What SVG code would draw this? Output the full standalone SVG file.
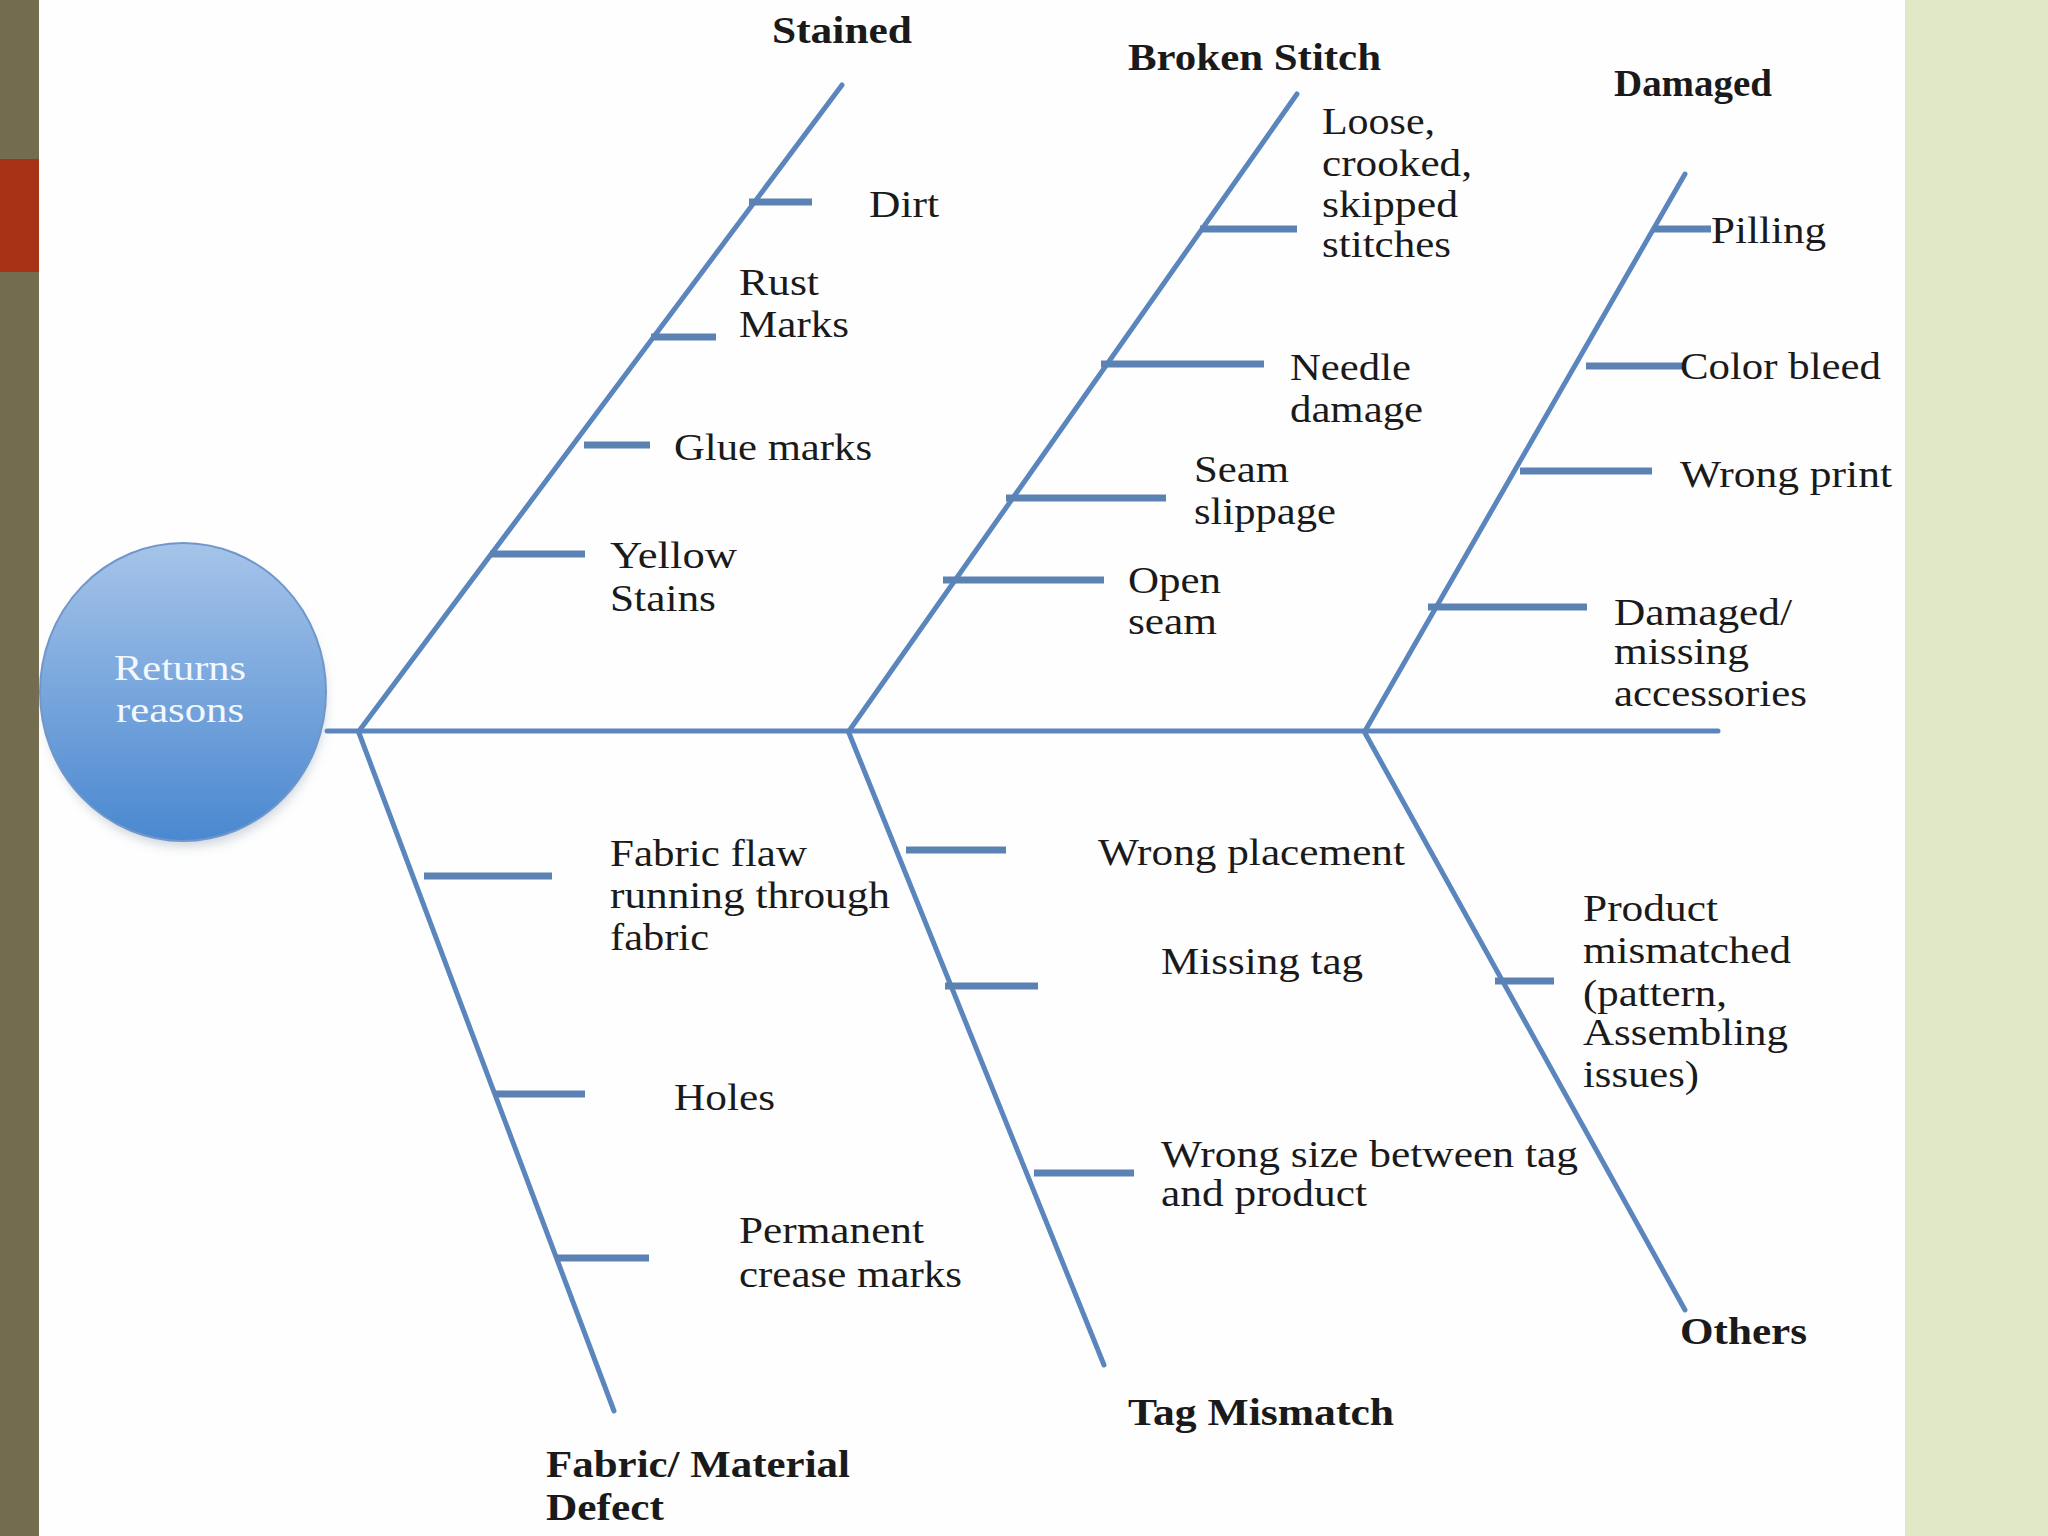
<svg xmlns="http://www.w3.org/2000/svg" width="2048" height="1536" viewBox="0 0 2048 1536">
  <defs>
    <linearGradient id="circFill" x1="0" y1="0" x2="0" y2="1">
      <stop offset="0" stop-color="#A6C4E9"/>
      <stop offset="1" stop-color="#4A88D0"/>
    </linearGradient>
    <filter id="shadow" x="-20%" y="-20%" width="140%" height="140%">
      <feGaussianBlur stdDeviation="6"/>
    </filter>
    <style>
      .bone { stroke: #5A86BD; stroke-width: 5; fill: none; stroke-linecap: round; }
      .rib { stroke: #5B82B3; stroke-width: 7; fill: none; }
      .t { font-family: "Liberation Serif", "Times New Roman", serif; font-size: 38px; fill: #1A1A1A; }
      .b { font-weight: bold; }
      .w { fill: #F4F8FD; font-size: 36px; text-anchor: middle; }
    </style>
  </defs>

  <rect x="0" y="0" width="2048" height="1536" fill="#FEFEFE"/>
  <rect x="0" y="0" width="39" height="1536" fill="#746C4F"/>
  <rect x="0" y="159" width="39" height="113" fill="#A83216"/>
  <rect x="1905" y="0" width="143" height="1536" fill="#E1E8C7"/>

  <g id="connectors">
    <line class="bone" x1="327" y1="731" x2="1718" y2="731"/>
    <line class="bone" x1="359" y1="731" x2="842" y2="85"/>
    <line class="bone" x1="849" y1="731" x2="1297" y2="94"/>
    <line class="bone" x1="1365" y1="731" x2="1685" y2="174"/>
    <line class="bone" x1="359" y1="733" x2="614" y2="1411"/>
    <line class="bone" x1="849" y1="733" x2="1104" y2="1365"/>
    <line class="bone" x1="1365" y1="733" x2="1685" y2="1310"/>
    <line class="rib" x1="749" y1="202" x2="812" y2="202"/>
    <line class="rib" x1="651" y1="337" x2="716" y2="337"/>
    <line class="rib" x1="584" y1="445" x2="650" y2="445"/>
    <line class="rib" x1="490" y1="554" x2="585" y2="554"/>
    <line class="rib" x1="1200" y1="229" x2="1297" y2="229"/>
    <line class="rib" x1="1101" y1="364" x2="1264" y2="364"/>
    <line class="rib" x1="1006" y1="498" x2="1166" y2="498"/>
    <line class="rib" x1="943" y1="580" x2="1104" y2="580"/>
    <line class="rib" x1="1653" y1="229" x2="1711" y2="229"/>
    <line class="rib" x1="1586" y1="366" x2="1685" y2="366"/>
    <line class="rib" x1="1520" y1="471" x2="1652" y2="471"/>
    <line class="rib" x1="1428" y1="607" x2="1587" y2="607"/>
    <line class="rib" x1="424" y1="876" x2="552" y2="876"/>
    <line class="rib" x1="494" y1="1094" x2="585" y2="1094"/>
    <line class="rib" x1="555" y1="1258" x2="649" y2="1258"/>
    <line class="rib" x1="906" y1="850" x2="1006" y2="850"/>
    <line class="rib" x1="945" y1="986" x2="1038" y2="986"/>
    <line class="rib" x1="1034" y1="1173" x2="1134" y2="1173"/>
    <line class="rib" x1="1495" y1="981" x2="1554" y2="981"/>
  </g>

  <g id="head">
    <ellipse cx="185" cy="700" rx="140" ry="146" fill="#8A9BB0" opacity="0.45" filter="url(#shadow)"/>
    <ellipse cx="183" cy="692" rx="143" ry="149" fill="url(#circFill)" stroke="#6F97C9" stroke-width="2"/>
    <text class="t w" x="180" y="680" textLength="132" lengthAdjust="spacingAndGlyphs">Returns</text>
    <text class="t w" x="180" y="722" textLength="128" lengthAdjust="spacingAndGlyphs">reasons</text>
  </g>

  <g id="stained">
    <text class="t b" x="772" y="43" textLength="140" lengthAdjust="spacingAndGlyphs">Stained</text>
    <text class="t" x="869" y="217" textLength="70" lengthAdjust="spacingAndGlyphs">Dirt</text>
    <text class="t" x="739" y="295" textLength="80" lengthAdjust="spacingAndGlyphs">Rust</text>
    <text class="t" x="739" y="337" textLength="110" lengthAdjust="spacingAndGlyphs">Marks</text>
    <text class="t" x="674" y="460" textLength="198" lengthAdjust="spacingAndGlyphs">Glue marks</text>
    <text class="t" x="610" y="568" textLength="127" lengthAdjust="spacingAndGlyphs">Yellow</text>
    <text class="t" x="610" y="611" textLength="106" lengthAdjust="spacingAndGlyphs">Stains</text>
  </g>

  <g id="broken-stitch">
    <text class="t b" x="1128" y="70" textLength="253" lengthAdjust="spacingAndGlyphs">Broken Stitch</text>
    <text class="t" x="1322" y="134" textLength="113" lengthAdjust="spacingAndGlyphs">Loose,</text>
    <text class="t" x="1322" y="176" textLength="150" lengthAdjust="spacingAndGlyphs">crooked,</text>
    <text class="t" x="1322" y="217" textLength="136" lengthAdjust="spacingAndGlyphs">skipped</text>
    <text class="t" x="1322" y="257" textLength="129" lengthAdjust="spacingAndGlyphs">stitches</text>
    <text class="t" x="1290" y="380" textLength="121" lengthAdjust="spacingAndGlyphs">Needle</text>
    <text class="t" x="1290" y="422" textLength="133" lengthAdjust="spacingAndGlyphs">damage</text>
    <text class="t" x="1194" y="482" textLength="95" lengthAdjust="spacingAndGlyphs">Seam</text>
    <text class="t" x="1194" y="524" textLength="142" lengthAdjust="spacingAndGlyphs">slippage</text>
    <text class="t" x="1128" y="593" textLength="93" lengthAdjust="spacingAndGlyphs">Open</text>
    <text class="t" x="1128" y="634" textLength="89" lengthAdjust="spacingAndGlyphs">seam</text>
  </g>

  <g id="damaged">
    <text class="t b" x="1614" y="96" font-size="32" textLength="158" lengthAdjust="spacingAndGlyphs">Damaged</text>
    <text class="t" x="1711" y="243" textLength="115" lengthAdjust="spacingAndGlyphs">Pilling</text>
    <text class="t" x="1680" y="379" textLength="201" lengthAdjust="spacingAndGlyphs">Color bleed</text>
    <text class="t" x="1680" y="487" textLength="212" lengthAdjust="spacingAndGlyphs">Wrong print</text>
    <text class="t" x="1614" y="625" textLength="178" lengthAdjust="spacingAndGlyphs">Damaged/</text>
    <text class="t" x="1614" y="664" textLength="135" lengthAdjust="spacingAndGlyphs">missing</text>
    <text class="t" x="1614" y="706" textLength="193" lengthAdjust="spacingAndGlyphs">accessories</text>
  </g>

  <g id="fabric-material-defect">
    <text class="t b" x="546" y="1477" textLength="304" lengthAdjust="spacingAndGlyphs">Fabric/ Material</text>
    <text class="t b" x="546" y="1520" textLength="118" lengthAdjust="spacingAndGlyphs">Defect</text>
    <text class="t" x="610" y="866" textLength="197" lengthAdjust="spacingAndGlyphs">Fabric flaw</text>
    <text class="t" x="610" y="908" textLength="280" lengthAdjust="spacingAndGlyphs">running through</text>
    <text class="t" x="610" y="950" textLength="99" lengthAdjust="spacingAndGlyphs">fabric</text>
    <text class="t" x="674" y="1110" textLength="101" lengthAdjust="spacingAndGlyphs">Holes</text>
    <text class="t" x="739" y="1243" textLength="185" lengthAdjust="spacingAndGlyphs">Permanent</text>
    <text class="t" x="739" y="1287" textLength="223" lengthAdjust="spacingAndGlyphs">crease marks</text>
  </g>

  <g id="tag-mismatch">
    <text class="t b" x="1128" y="1425" textLength="266" lengthAdjust="spacingAndGlyphs">Tag Mismatch</text>
    <text class="t" x="1098" y="865" textLength="307" lengthAdjust="spacingAndGlyphs">Wrong placement</text>
    <text class="t" x="1161" y="974" textLength="202" lengthAdjust="spacingAndGlyphs">Missing tag</text>
    <text class="t" x="1161" y="1167" textLength="417" lengthAdjust="spacingAndGlyphs">Wrong size between tag</text>
    <text class="t" x="1161" y="1206" textLength="206" lengthAdjust="spacingAndGlyphs">and product</text>
  </g>

  <g id="others">
    <text class="t b" x="1680" y="1344" textLength="127" lengthAdjust="spacingAndGlyphs">Others</text>
    <text class="t" x="1583" y="921" textLength="135" lengthAdjust="spacingAndGlyphs">Product</text>
    <text class="t" x="1583" y="963" textLength="208" lengthAdjust="spacingAndGlyphs">mismatched</text>
    <text class="t" x="1583" y="1006" textLength="144" lengthAdjust="spacingAndGlyphs">(pattern,</text>
    <text class="t" x="1583" y="1045" textLength="205" lengthAdjust="spacingAndGlyphs">Assembling</text>
    <text class="t" x="1583" y="1087" textLength="116" lengthAdjust="spacingAndGlyphs">issues)</text>
  </g>
</svg>
